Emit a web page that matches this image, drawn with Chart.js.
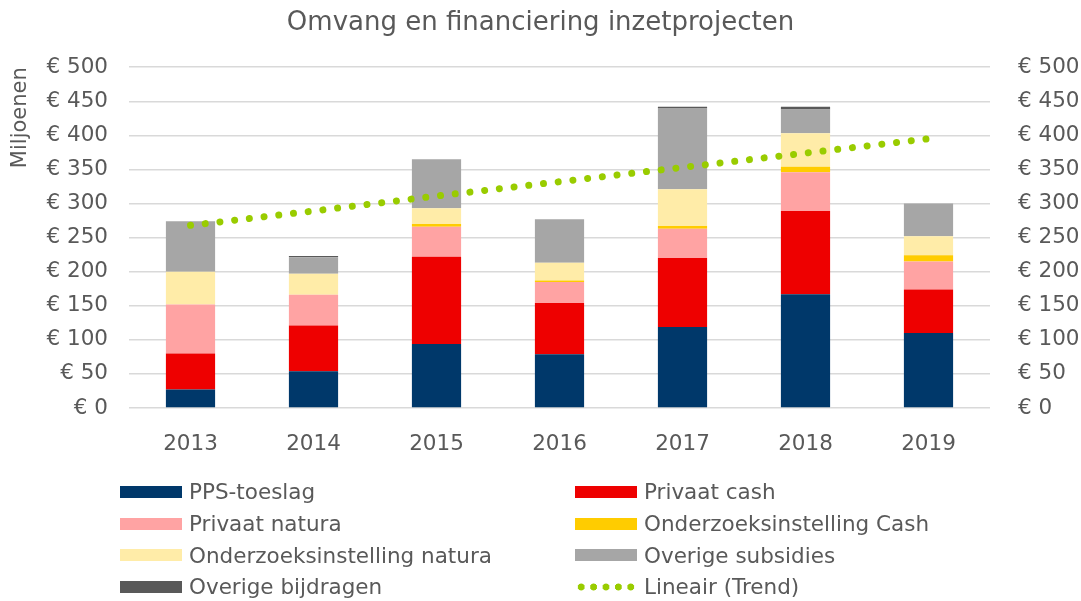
<!DOCTYPE html>
<html>
<head>
<meta charset="utf-8">
<script src="https://cdn.jsdelivr.net/npm/chart.js@4"></script>
<style>
    body { margin: 0; background: #fff; font-family: "DejaVu Sans", Verdana, sans-serif; }
    #wrap { position: relative; width: 1081px; height: 601px; }
    #legend {
        position: absolute; left: 120px; top: 476px;
        display: grid; grid-template-columns: 455px 420px;
        grid-auto-rows: 31.7px; color: #595959; font-size: 21.5px;
    }
    .item { display: flex; align-items: center; white-space: nowrap; }
    .box { width: 62px; height: 12px; margin-right: 7px; }
    .dots {
        width: 62px; height: 8px; margin-right: 7px;
        background: radial-gradient(circle, #99cc00 3.2px, transparent 3.8px) repeat-x;
        background-size: 12.4px 8px;
    }
</style>
</head>
<body>
<div id="wrap">
    <canvas id="chart"></canvas>
    <div id="legend"></div>
</div>
<script>
const years = ["2013", "2014", "2015", "2016", "2017", "2018", "2019"];

const ppsToeslag = [27, 54, 94, 79, 119, 167, 110];
const privaatCash = [53, 67, 128, 75, 101, 122, 64];
const privaatNatura = [72, 45, 44, 31, 43, 57, 41];
const onderzoekCash = [0, 0, 4, 2, 4, 8, 9];
const onderzoekNatura = [48, 31, 23, 26, 54, 49, 28];
const overigeSubsidies = [74, 24, 72, 64, 119, 35, 48];
const overigeBijdragen = [0, 2, 0, 0, 2, 4, 0];
const trend = [268, 289, 311, 332, 353, 374, 395];

const yMax = 500;
const yStep = 50;

const grey = "#595959";
const family = "'DejaVu Sans', Verdana, sans-serif";
const font = { family: family, size: 21.5 };

function bar(label, data, color) {
    return {
        type: "bar",
        label: label,
        data: data,
        backgroundColor: color,
        stack: "totaal",
        yAxisID: "y",
        order: 2
    };
}

const ctx = document.getElementById("chart");

const chart = new Chart(ctx, {
    data: {
        labels: years,
        datasets: [
            bar("PPS-toeslag", ppsToeslag, "#00386a"),
            bar("Privaat cash", privaatCash, "#ee0000"),
            bar("Privaat natura", privaatNatura, "#ffa3a3"),
            bar("Onderzoeksinstelling Cash", onderzoekCash, "#ffcc00"),
            bar("Onderzoeksinstelling natura", onderzoekNatura, "#ffeca8"),
            bar("Overige subsidies", overigeSubsidies, "#a6a6a6"),
            bar("Overige bijdragen", overigeBijdragen, "#595959"),
            {
                type: "line",
                label: "Lineair (Trend)",
                data: trend,
                stack: "trend",
                yAxisID: "y",
                borderColor: "#99cc00",
                borderWidth: 7,
                borderDash: [0.01, 14.8],
                borderCapStyle: "round",
                pointRadius: 0,
                fill: false,
                order: 1
            }
        ]
    },

    options: {
        responsive: true,
        maintainAspectRatio: false,
        animation: false,

        datasets: {
            bar: {
                categoryPercentage: 1,
                barPercentage: 0.4
            }
        },

        layout: {
            padding: { left: 0, right: 0, top: 0, bottom: 143 }
        },

        plugins: {
            legend: { display: false },
            tooltip: { enabled: false },
            title: {
                display: true,
                text: "Omvang en financiering inzetprojecten",
                color: grey,
                font: { family: family, size: 26, weight: "normal" },
                padding: { top: 8, bottom: 28 }
            }
        },

        scales: {
            x: {
                stacked: true,
                grid: { display: false },
                border: { display: false },
                ticks: { color: grey, font: font, padding: 16 },
                afterFit: function (scale) { scale.height = 50; }
            },

            y: {
                stacked: true,
                position: "left",
                min: 0,
                max: yMax,
                grid: { color: "#d9d9d9", lineWidth: 1.5, drawTicks: false },
                border: { display: false },
                ticks: {
                    stepSize: yStep,
                    color: grey,
                    font: font,
                    padding: 21,
                    callback: function (value) { return "€ " + value; }
                },
                title: {
                    display: true,
                    text: "Miljoenen",
                    align: "end",
                    color: grey,
                    font: { family: family, size: 21 },
                    padding: { top: 8, bottom: 0 }
                },
                afterFit: function (scale) { scale.width = 129; }
            },

            y2: {
                position: "right",
                min: 0,
                max: yMax,
                grid: { display: false },
                border: { display: false },
                ticks: {
                    stepSize: yStep,
                    color: grey,
                    font: font,
                    padding: 20,
                    callback: function (value) { return "€ " + value; }
                },
                afterFit: function (scale) { scale.width = 91; }
            }
        }
    }
});

// two-column legend like the original
const legend = document.getElementById("legend");
chart.data.datasets.forEach(function (ds) {
    const item = document.createElement("div");
    item.className = "item";
    const sym = document.createElement("span");
    if (ds.type === "line") {
        sym.className = "dots";
    } else {
        sym.className = "box";
        sym.style.background = ds.backgroundColor;
    }
    const txt = document.createElement("span");
    txt.textContent = ds.label;
    item.appendChild(sym);
    item.appendChild(txt);
    legend.appendChild(item);
});
</script>
</body>
</html>
